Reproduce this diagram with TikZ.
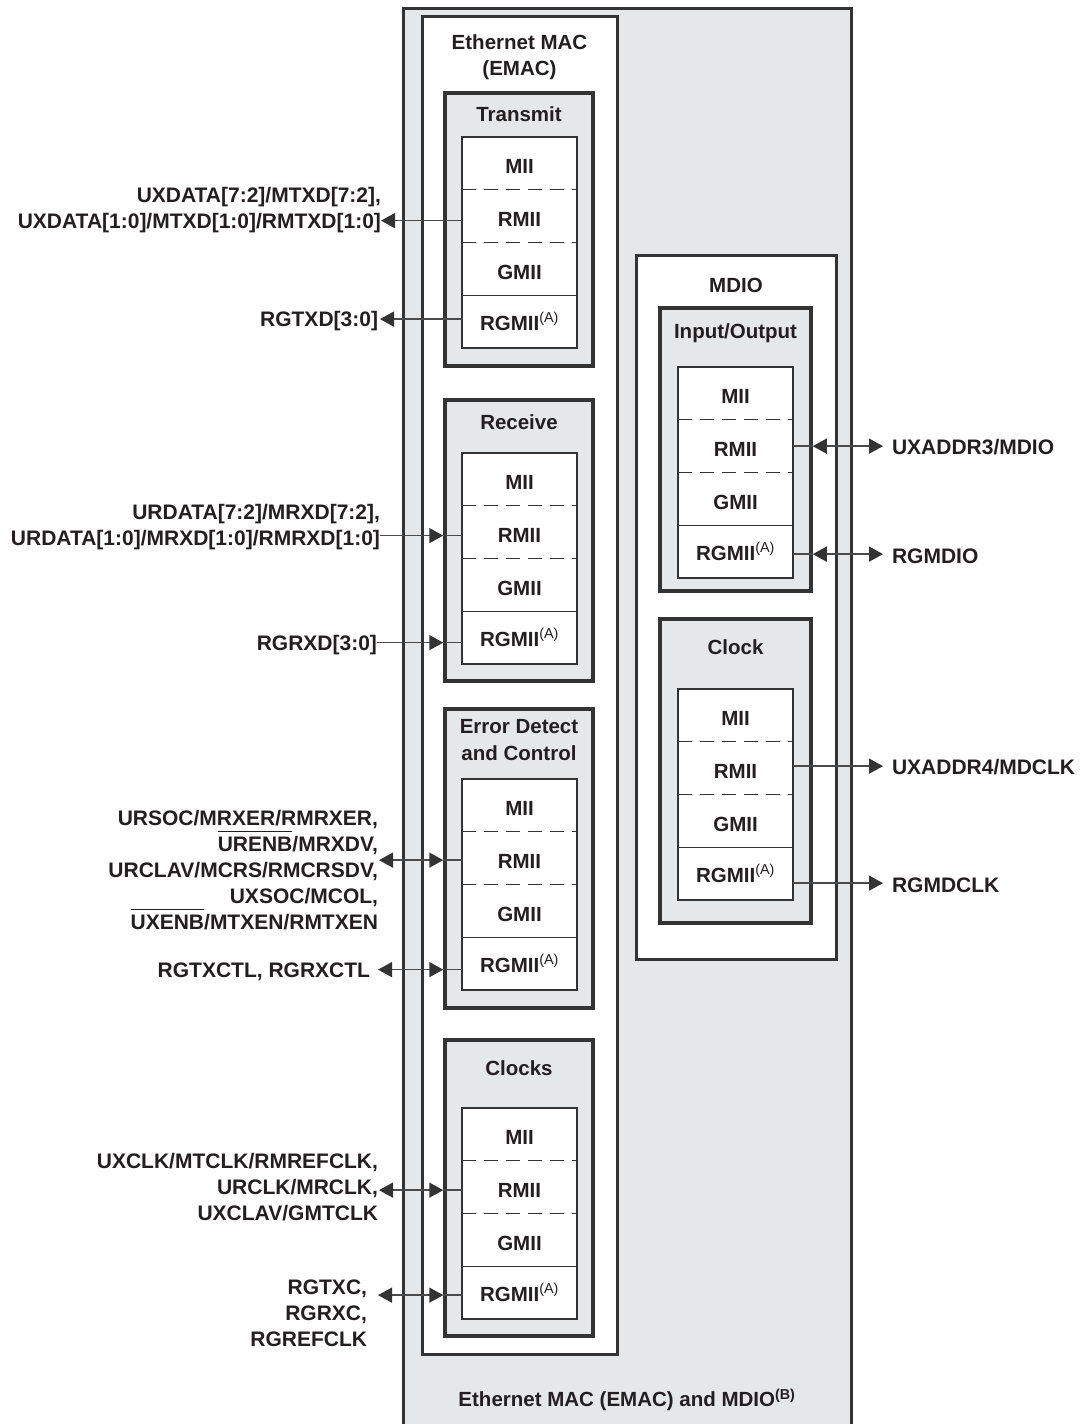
\documentclass[tikz,border=0pt]{standalone}
\usepackage{fontspec}
\setmainfont{Liberation Sans}
\usetikzlibrary{arrows.meta}
\definecolor{txt}{HTML}{231F20}
\definecolor{ln}{HTML}{333333}
\definecolor{gfill}{HTML}{E6E7E8}
\definecolor{sigc}{HTML}{4A4A4A}
\newcommand{\supA}{\textsuperscript{\mdseries(A)}}
\newcommand{\cellstack}[3]{%
  \node[cell, celltxt] (#1mii) at (#2,#3+26.375) {MII};
  \node[cell, celltxt] (#1rmii) at (#2,#3+79.125) {RMII};
  \node[cell, celltxt] (#1gmii) at (#2,#3+131.875) {GMII};
  \node[cell] (#1rgmii) at (#2,#3+184.625) {RGMII\supA};
  \draw[sepdash] (#1mii.south west) -- (#1mii.south east);
  \draw[sepdash] (#1rmii.south west) -- (#1rmii.south east);
  \draw[cellline] (#1gmii.south west) -- (#1gmii.south east);
  \draw[cellline] (#1mii.north west) rectangle (#1rgmii.south east);
}
\begin{document}
\begin{tikzpicture}[x=1pt,y=-1pt,
  every node/.style={text=txt, font=\fontsize{20.5}{25.5}\selectfont\bfseries},
  outerbox/.style={draw=ln, line width=3pt, fill=gfill, inner sep=0},
  whitebox/.style={draw=ln, line width=3pt, fill=white, inner sep=0},
  greybox/.style={draw=ln, line width=3.5pt, fill=gfill, inner sep=0},
  cell/.style={minimum width=115pt, minimum height=52.75pt, inner sep=0, outer sep=0, fill=white},
  celltxt/.style={text height=20.7pt, text depth=0pt},
  sepdash/.style={draw=ln, line width=1.2pt, dash pattern=on 14pt off 8pt},
  cellline/.style={draw=ln, line width=1.5pt},
  lab/.style={inner sep=0, outer sep=0, align=right, anchor=east, font=\fontsize{21}{26}\selectfont\bfseries},
  labline/.style={inner sep=0, outer sep=0, anchor=base east, text height=15pt, text depth=4pt, font=\fontsize{21}{26}\selectfont\bfseries},
  ovline/.style={draw=txt, line width=1.3pt},
  rlab/.style={inner sep=0, outer sep=0, anchor=west, font=\fontsize{21}{26}\selectfont\bfseries},
  sig/.style={draw=sigc, line width=1.5pt},
  >={Triangle[length=14pt,width=15pt,color=ln]},
]
\useasboundingbox (0,0) rectangle (1086,1424);

% outer block
\node[outerbox, minimum width=448pt, minimum height=1432pt] (outer) at (627,724) {};
\node (foot) at (627,1400) {Ethernet MAC (EMAC) and MDIO\textsuperscript{(B)}};

% EMAC
\node[whitebox, minimum width=195pt, minimum height=1338pt] (emac) at (519.5,685) {};
\node[align=center, font=\fontsize{20.5}{25.5}\selectfont\bfseries] (emact) at (519.5,57) {Ethernet MAC\\(EMAC)};

\node[greybox, minimum width=148pt, minimum height=273pt] (txbox) at (519,229.5) {};
\node (txt) at (519,114) {Transmit};
\node[greybox, minimum width=148pt, minimum height=281pt] (rxbox) at (519,540.5) {};
\node (rxt) at (519,422) {Receive};
\node[greybox, minimum width=148pt, minimum height=299pt] (erbox) at (519,858.5) {};
\node[align=center, font=\fontsize{20.5}{26.5}\selectfont\bfseries] (ert) at (519,740) {Error Detect\\and Control};
\node[greybox, minimum width=148pt, minimum height=296pt] (ckbox) at (519,1188) {};
\node (ckt) at (519,1068) {Clocks};

\cellstack{t}{519.5}{137}
\cellstack{r}{519.5}{453}
\cellstack{e}{519.5}{779}
\cellstack{c}{519.5}{1108}

% MDIO
\node[whitebox, minimum width=200pt, minimum height=704pt] (mdio) at (736,607) {};
\node (mdiot) at (736,285) {MDIO};
\node[greybox, minimum width=151pt, minimum height=283pt] (iobox) at (735.5,449.5) {};
\node (iot) at (735.5,333) {Input/Output};
\node[greybox, minimum width=151pt, minimum height=304pt] (clbox) at (735.5,771) {};
\node (clt) at (735.5,647) {Clock};

\cellstack{i}{735.5}{367}
\cellstack{k}{735.5}{689}

% ---- left signals ----
\node[lab] (txdl) at (381,210) {UXDATA[7:2]/MTXD[7:2],\\UXDATA[1:0]/MTXD[1:0]/RMTXD[1:0]};
\coordinate (ta) at ([yshift=-4.5pt]trmii.west);
\draw[sig,->] (ta) -- (ta -| txdl.east);

\node[lab] (rgtxdl) at (378,321) {RGTXD[3:0]};
\coordinate (tb) at ([yshift=2.5pt]trgmii.west);
\draw[sig,->] (tb) -- ([xshift=2pt]tb -| rgtxdl.east);

\node[lab] (rxdl) at (380,527) {URDATA[7:2]/MRXD[7:2],\\URDATA[1:0]/MRXD[1:0]/RMRXD[1:0]};
\coordinate (ra) at ([yshift=-3.5pt]rrmii.west);
\draw[sig,->] (ra -| rxdl.east) -- (ra -| rxbox.west);
\draw[sig] (ra -| rxbox.west) -- (ra);

\node[lab] (rgrxdl) at (377,645) {RGRXD[3:0]};
\coordinate (rb) at ([yshift=-5pt]rrgmii.west);
\draw[sig,->] (rb -| rgrxdl.east) -- (rb -| rxbox.west);
\draw[sig] (rb -| rxbox.west) -- (rb);

% error/control signal list, one node per line
\node[labline] (er1) at (378,825.5) {URSOC/MRXER/RMRXER,};
\node[labline] (er2b) at (378,851.5) {/MRXDV,};
\node[labline] (er2a) at (er2b.base west) {URENB};
\draw[ovline] ([yshift=4.8pt]er2a.north west) -- ([yshift=4.8pt]er2a.north east);
\node[labline] (er3) at (378,877.5) {URCLAV/MCRS/RMCRSDV,};
\node[labline] (er4) at (378,903.5) {UXSOC/MCOL,};
\node[labline] (er5b) at (378,929.5) {/MTXEN/RMTXEN};
\node[labline] (er5a) at (er5b.base west) {UXENB};
\draw[ovline] ([yshift=4.8pt]er5a.north west) -- ([yshift=4.8pt]er5a.north east);
\coordinate (ea) at ([yshift=-2pt]ermii.west);
\draw[sig,<->] ([xshift=1pt]ea -| er3.east) -- (ea -| erbox.west);
\draw[sig] (ea -| erbox.west) -- (ea);

\node[lab] (ctll) at (370,972) {RGTXCTL, RGRXCTL};
\coordinate (eb) at ([yshift=-6pt]ergmii.west);
\draw[sig,<->] ([xshift=8pt]eb -| ctll.east) -- (eb -| erbox.west);
\draw[sig] (eb -| erbox.west) -- (eb);

\node[lab] (ckl) at (378,1187) {UXCLK/MTCLK/RMREFCLK,\\URCLK/MRCLK,\\UXCLAV/GMTCLK};
\coordinate (ca) at ([yshift=-3pt]crmii.west);
\draw[sig,<->] ([xshift=1pt]ca -| ckl.east) -- (ca -| ckbox.west);
\draw[sig] (ca -| ckbox.west) -- (ca);

\node[lab] (rgckl) at (367,1313) {RGTXC,\\RGRXC,\\RGREFCLK};
\coordinate (cb) at ([yshift=-2.5pt]crgmii.west);
\draw[sig,<->] ([xshift=11pt]cb -| rgckl.east) -- (cb -| ckbox.west);
\draw[sig] (cb -| ckbox.west) -- (cb);

% ---- right signals ----
\node[rlab] (mdl) at (892,447) {UXADDR3/MDIO};
\coordinate (ia) at (irmii.east);
\draw[sig] (ia) -- (ia -| iobox.east);
\draw[sig,<->] (ia -| iobox.east) -- ([xshift=-9pt]ia -| mdl.west);

\node[rlab] (rgmdl) at (892,556) {RGMDIO};
\coordinate (ib) at ([yshift=-2.5pt]irgmii.east);
\draw[sig] (ib) -- (ib -| iobox.east);
\draw[sig,<->] (ib -| iobox.east) -- ([xshift=-9pt]ib -| rgmdl.west);

\node[rlab] (mdcl) at (892,767) {UXADDR4/MDCLK};
\coordinate (ka) at ([yshift=2pt]krmii.east);
\draw[sig,->] (ka) -- ([xshift=-9pt]ka -| mdcl.west);

\node[rlab] (rgmdcl) at (892,885) {RGMDCLK};
\coordinate (kb) at ([yshift=-9.5pt]krgmii.east);
\draw[sig,->] (kb) -- ([xshift=-9pt]kb -| rgmdcl.west);
\end{tikzpicture}
\end{document}
